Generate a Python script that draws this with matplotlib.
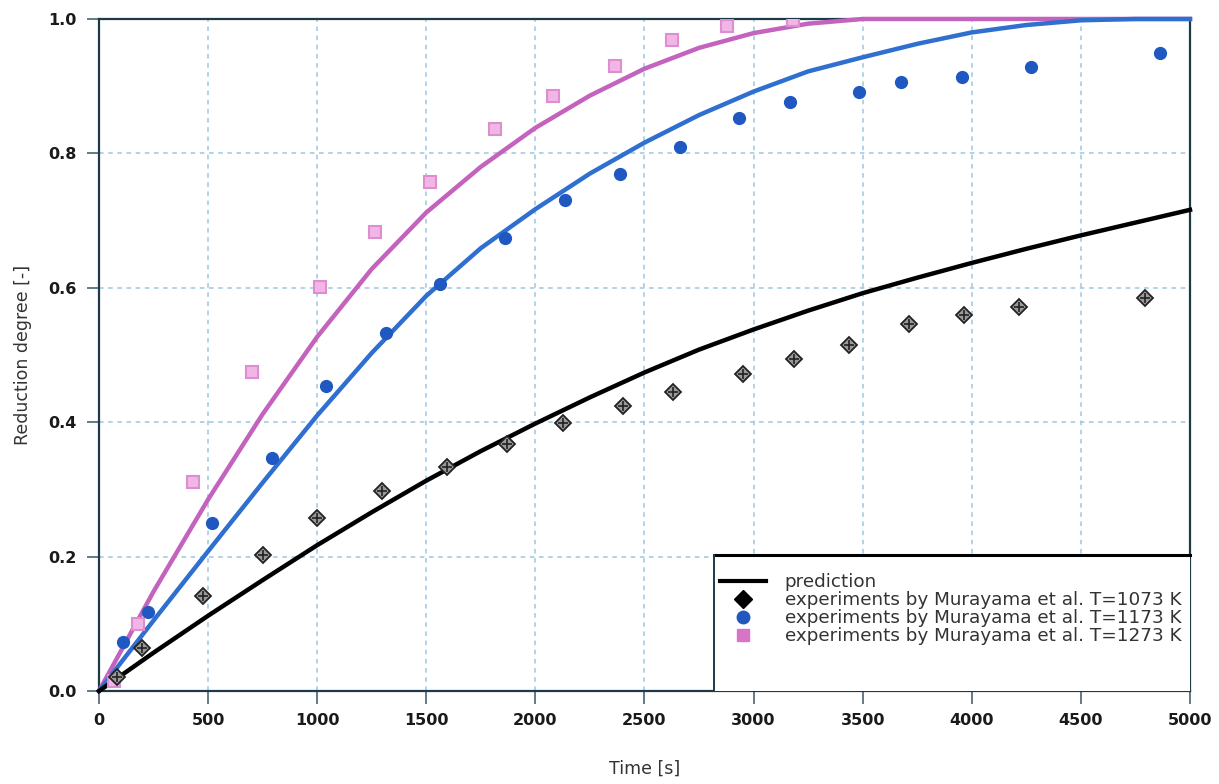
import numpy as np
import matplotlib
matplotlib.use("Agg")
import matplotlib.pyplot as plt
from matplotlib.lines import Line2D
from matplotlib.patches import Rectangle

plt.rcParams['font.family'] = ['DejaVu Sans']

# prediction curves
t_pred = [0, 250, 500, 750, 1000, 1250, 1500, 1750, 2000, 2250, 2500, 2750, 3000,
          3250, 3500, 3750, 4000, 4250, 4500, 4750, 5000]
pred_1073 = [0, 0.057, 0.112, 0.165, 0.217, 0.266, 0.313, 0.357, 0.398, 0.437, 0.474,
             0.508, 0.538, 0.566, 0.592, 0.615, 0.637, 0.658, 0.678, 0.697, 0.716]
pred_1173 = [0, 0.105, 0.208, 0.310, 0.410, 0.503, 0.588, 0.659, 0.717, 0.770, 0.816,
             0.857, 0.892, 0.922, 0.943, 0.963, 0.980, 0.991, 0.998, 1.0, 1.0]
pred_1273 = [0, 0.148, 0.285, 0.412, 0.527, 0.628, 0.712, 0.780, 0.838, 0.886, 0.926,
             0.957, 0.979, 0.993, 1.0, 1.0, 1.0, 1.0, 1.0, 1.0, 1.0]

# experiments by Murayama et al.
t_1073 = [82, 197, 477, 752, 999, 1297, 1595, 1870, 2126, 2401, 2631, 2952, 3185,
          3437, 3712, 3964, 4216, 4794]
x_1073 = [0.021, 0.064, 0.141, 0.202, 0.257, 0.298, 0.333, 0.368, 0.399, 0.424, 0.445,
          0.472, 0.494, 0.515, 0.546, 0.560, 0.571, 0.585]

t_1173 = [110, 225, 518, 793, 1040, 1315, 1563, 1861, 2136, 2388, 2663, 2933, 3167,
          3483, 3676, 3955, 4271, 4863]
x_1173 = [0.073, 0.118, 0.250, 0.347, 0.454, 0.533, 0.606, 0.674, 0.731, 0.769, 0.810,
          0.852, 0.877, 0.891, 0.906, 0.914, 0.929, 0.949]

t_1273 = [70, 180, 431, 700, 1013, 1265, 1517, 1815, 2081, 2365, 2626, 2878, 3180]
x_1273 = [0.015, 0.100, 0.311, 0.475, 0.601, 0.683, 0.757, 0.836, 0.885, 0.930, 0.969,
          0.990, 0.998]

labels = ["prediction",
          "experiments by Murayama et al. T=1073 K",
          "experiments by Murayama et al. T=1173 K",
          "experiments by Murayama et al. T=1273 K"]

c_blue_line = '#2f6fd0'
c_blue_pt = '#1f58c0'
c_pink_line = '#c463bd'
c_pink_face = '#f2b6e6'
c_pink_edge = '#dc8ed0'
c_grid = '#9cc8e2'
c_spine = '#1c3a48'

fig = plt.figure(figsize=(12.19, 7.84), dpi=100)
ax = fig.add_axes([0.0812, 0.1186, 0.895, 0.8572])

ax.plot(t_pred, pred_1273, color=c_pink_line, lw=3.2, zorder=3, clip_on=False)
ax.plot(t_pred, pred_1173, color=c_blue_line, lw=3.2, zorder=3, clip_on=False)
ax.plot(t_pred, pred_1073, color='black', lw=3.2, zorder=3, clip_on=False)

ax.plot(t_1273, x_1273, ls='none', marker='s', ms=8, mfc=c_pink_face, mec=c_pink_edge,
        mew=1.5, zorder=4)
ax.plot(t_1173, x_1173, ls='none', marker='o', ms=8.5, mfc=c_blue_pt, mec=c_blue_pt,
        zorder=4)
ax.plot(t_1073, x_1073, ls='none', marker='D', ms=8, mfc='#9a9a9a', mec='#222222',
        mew=1.3, zorder=4)
ax.plot(t_1073, x_1073, ls='none', marker='+', ms=7, mec='#222222', mew=1.2, zorder=5)

ax.set_xlim(0, 5000)
ax.set_ylim(0, 1.0)
ax.set_xticks(np.arange(0, 5001, 500))
ax.set_yticks(np.arange(0, 1.01, 0.2))
ax.set_yticklabels([f"{v:.1f}" for v in np.arange(0, 1.01, 0.2)])
ax.tick_params(direction='out', length=9, width=1.2, color='#4a6470',
               labelsize=11.5, labelcolor='#1a1a1a', pad=7)
for lab in ax.get_xticklabels() + ax.get_yticklabels():
    lab.set_fontweight('bold')

ax.grid(True, color=c_grid, ls=(0, (3, 3)), lw=1.1)
ax.set_axisbelow(True)
for s in ax.spines.values():
    s.set_color(c_spine)
    s.set_linewidth(1.6)

ax.set_xlabel("Time [s]", fontsize=12.5, color='#333333', labelpad=23)
ax.set_ylabel("Reduction degree [-]", fontsize=12.5, color='#333333', labelpad=12)

# legend box: fixed frame, entries at its top
box = Rectangle((0.5637, 0.0), 0.4363, 0.2024, transform=ax.transAxes,
                facecolor='white', edgecolor='none', zorder=6)
ax.add_patch(box)
ax.plot([0.5637, 1.0], [0.2024, 0.2024], transform=ax.transAxes, color='black',
        lw=2.2, zorder=7, clip_on=False)
ax.plot([0.5637, 0.5637], [0.0, 0.2024], transform=ax.transAxes, color=c_spine,
        lw=1.4, zorder=7)

handles = [Line2D([], [], color='black', lw=3),
           Line2D([], [], ls='none', marker='D', ms=9, color='black'),
           Line2D([], [], ls='none', marker='o', ms=9, color=c_blue_pt),
           Line2D([], [], ls='none', marker='s', ms=8, mfc='#d874c8', mec='#d874c8')]
leg = ax.legend(handles, labels, loc='upper left', bbox_to_anchor=(0.5637, 0.1846),
                borderaxespad=0, fontsize=13.2, frameon=False, labelspacing=0.0,
                handlelength=2.5, handletextpad=1.0, borderpad=0.35,
                labelcolor='#333333')
leg.set_zorder(8)

fig.savefig("out.png", dpi=100)
